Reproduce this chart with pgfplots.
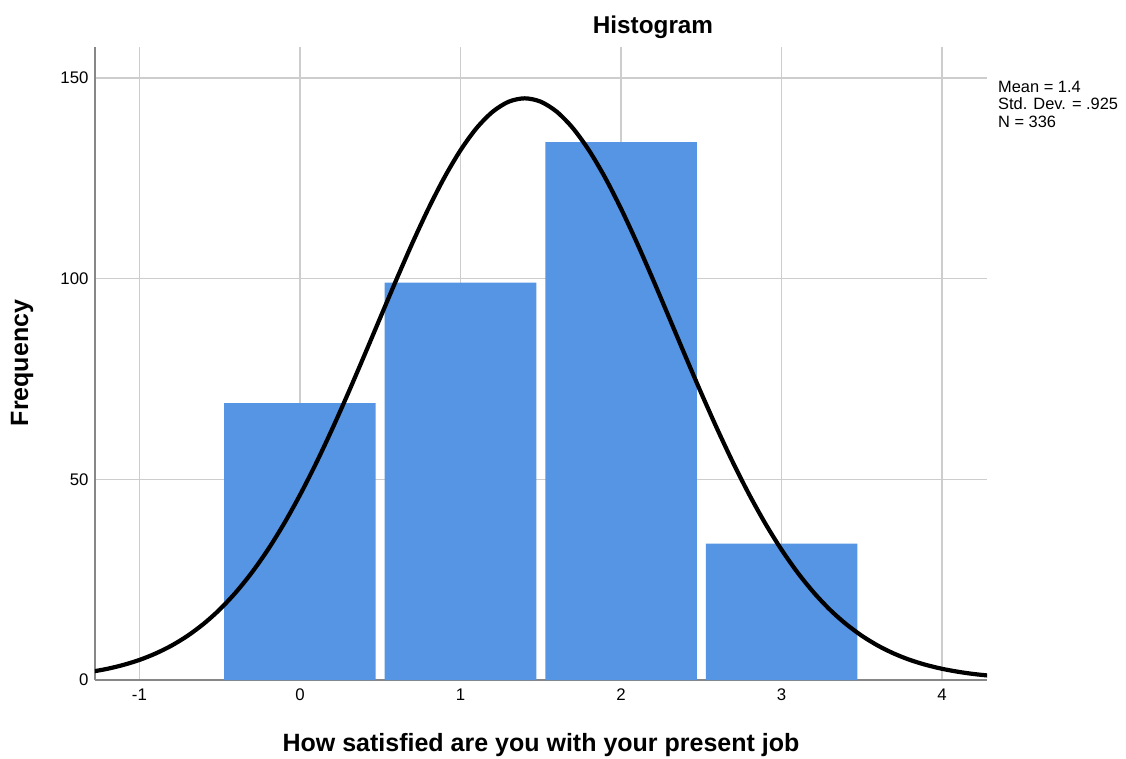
\documentclass[border=0pt]{standalone}
\usepackage{fontspec}
\setmainfont{Liberation Sans}
\usepackage{pgfplots}
\pgfplotsset{compat=1.18}
\definecolor{barblue}{RGB}{85,149,228}
\definecolor{gridgray}{RGB}{205,205,205}
\definecolor{axisgray}{RGB}{135,135,135}
\begin{document}
\begin{tikzpicture}[x=1pt,y=1pt]
\useasboundingbox (-95,-78) rectangle (1031,680);
\begin{axis}[
  at={(0,0)}, anchor=south west,
  scale only axis, width=892pt, height=633pt,
  xmin=-1.277, xmax=4.280, ymin=0, ymax=157.7,
  axis x line=bottom, axis y line=left,
  axis line style={-, draw=axisgray, line width=1.4pt},
  xtick={-1,0,1,2,3,4}, ytick={0,50,100,150},
  major tick length=0pt,
  grid=major,
  major grid style={draw=gridgray, line width=1.3pt},
  /pgf/number format/assume math mode=true,
  tick label style={font=\fontsize{16.8}{19}\selectfont},
  yticklabel style={xshift=-3pt},
  xticklabel style={yshift=-5pt},
]
\addplot[ybar, bar width=0.944, bar shift=0pt, fill=barblue, draw=none]
  coordinates {(0,69) (1,99) (2,134) (3,34)};
\addplot[black, line width=4.2pt, smooth] coordinates {
(-1.3,2.05) (-1.2,2.79) (-1.1,3.76) (-1.0,5.00) (-0.9,6.59) (-0.8,8.57)
(-0.7,11.02) (-0.6,14.00) (-0.5,17.57) (-0.4,21.82) (-0.3,26.77) (-0.2,32.46)
(-0.1,38.91) (0.0,46.10) (0.1,53.97) (0.2,62.47) (0.3,71.45) (0.4,80.78)
(0.5,90.26) (0.6,99.69) (0.7,108.83) (0.8,117.42) (0.9,125.22) (1.0,131.98)
(1.1,137.49) (1.2,141.56) (1.3,144.07) (1.4,144.91) (1.5,144.07) (1.6,141.56)
(1.7,137.49) (1.8,131.98) (1.9,125.22) (2.0,117.42) (2.1,108.83) (2.2,99.69)
(2.3,90.26) (2.4,80.78) (2.5,71.45) (2.6,62.47) (2.7,53.97) (2.8,46.10)
(2.9,38.91) (3.0,32.46) (3.1,26.77) (3.2,21.82) (3.3,17.57) (3.4,14.00)
(3.5,11.02) (3.6,8.57) (3.7,6.59) (3.8,5.00) (3.9,3.76) (4.0,2.79)
(4.1,2.05) (4.2,1.48) (4.3,1.06)};
\end{axis}
\node[font=\bfseries\fontsize{24.3}{28}\selectfont] at (558,653) {Histogram};
\node[font=\bfseries\fontsize{25}{29}\selectfont] at (446,-65) {How satisfied are you with your present job};
\node[font=\bfseries\fontsize{25}{29}\selectfont, rotate=90] at (-73,317) {Frequency};
\node[font=\fontsize{16.4}{17.3}\selectfont, anchor=north west, align=left, inner sep=0pt] at (903,599)
  {Mean = 1.4\\Std. Dev. = .925\\N = 336};
\end{tikzpicture}
\end{document}
